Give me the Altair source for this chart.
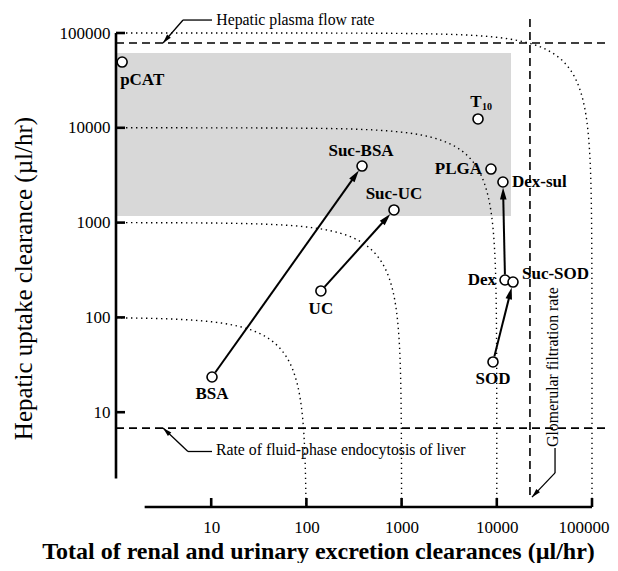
import math
import numpy as np
import pandas as pd
import altair as alt

# ---------------- values ----------------
names = ["pCAT", "T", "Suc-BSA", "PLGA", "Dex-sul", "Suc-UC", "UC", "Dex", "Suc-SOD", "SOD", "BSA"]
renal_cl = [1.16, 6350, 384, 8690, 11600, 832, 142, 12200, 14800, 9120, 10.2]
hepatic_cl = [49400, 12400, 3950, 3670, 2680, 1360, 190, 248, 236, 33.9, 23.5]
label_dx = [-2, -2, -1, -9, 9, 0, 0, -9, 9, 0, 0]
label_dy = [18, -17, -15, 0, 0, -16, 18, 0, -8, 17, 17]
label_align = ["left", "center", "center", "right", "left", "center", "center",
               "right", "left", "center", "center"]

arrow_from = ["BSA", "UC", "SOD", "Dex"]
arrow_to = ["Suc-BSA", "Suc-UC", "Suc-SOD", "Dex-sul"]

iso_totals = [100, 1000, 10000, 100000]
x_ticks = [10, 100, 1000, 10000, 100000]
y_ticks = [10, 100, 1000, 10000, 100000]

hepatic_plasma_flow = 78500
fluid_endocytosis = 6.8
gfr = 22300
shade_x = [1, 14100]
shade_y = [1175, 61600]

# annotation texts and their leader lines (data coordinates)
ann_text = ["Hepatic plasma flow rate", "Rate of fluid-phase endocytosis of liver"]
ann_x = [11.3, 11.2]
ann_y = [137000, 4.0]
gfr_text = "Glomerular filtration rate"
gfr_text_x = 38900
gfr_text_y = 4.3
leader_x = [[10.2, 5.06, 3.12], [10.2, 5.7, 3.12], [40900, 40900, 23400]]
leader_y = [[137000, 137000, 78500], [3.85, 3.85, 6.8], [4.19, 2.29, 1.27]]

# ---------------- geometry helpers ----------------
W, H = 476, 474
KX, KY = W / 5.0, H / 5.0  # px per decade


def to_px(x, y):
    return KX * math.log10(x), -KY * math.log10(y)


def from_px(X, Y):
    return 10 ** (X / KX), 10 ** (-Y / KY)


pts = pd.DataFrame({"name": names, "x": renal_cl, "y": hepatic_cl})
lab = []
for n, x, y, dx, dy, al in zip(names, renal_cl, hepatic_cl, label_dx, label_dy, label_align):
    X, Y = to_px(x, y)
    lx, ly = from_px(X + dx, Y + dy)
    lab.append({"name": n, "x": lx, "y": ly, "align": al})
lab = pd.DataFrame(lab)

# subscript of T10
tX, tY = to_px(renal_cl[1], hepatic_cl[1])
sx, sy = from_px(tX + 4, tY - 12)
sub = pd.DataFrame({"t": ["10"], "x": [sx], "y": [sy]})

R = 5.5
HEAD = 12
lines, heads = [], []
for a, b in zip(arrow_from, arrow_to):
    i, j = names.index(a), names.index(b)
    X1, Y1 = to_px(renal_cl[i], hepatic_cl[i])
    X2, Y2 = to_px(renal_cl[j], hepatic_cl[j])
    L = math.hypot(X2 - X1, Y2 - Y1)
    ux, uy = (X2 - X1) / L, (Y2 - Y1) / L
    sx0, sy0 = from_px(X1 + R * ux, Y1 + R * uy)
    ex, ey = from_px(X2 - (R + HEAD * 0.7) * ux, Y2 - (R + HEAD * 0.7) * uy)
    hx, hy = from_px(X2 - (R + HEAD / 2) * ux, Y2 - (R + HEAD / 2) * uy)
    ang = math.degrees(math.atan2(ux, -uy)) % 360
    lines.append({"x": sx0, "y": sy0, "x2": ex, "y2": ey})
    heads.append({"x": hx, "y": hy, "angle": ang, "size": HEAD * HEAD})

LHEAD = 9
segs = []
for xs_, ys_ in zip(leader_x, leader_y):
    for k in range(len(xs_) - 1):
        segs.append({"x": xs_[k], "y": ys_[k], "x2": xs_[k + 1], "y2": ys_[k + 1]})
    X1, Y1 = to_px(xs_[-2], ys_[-2])
    X2, Y2 = to_px(xs_[-1], ys_[-1])
    L = math.hypot(X2 - X1, Y2 - Y1)
    ux, uy = (X2 - X1) / L, (Y2 - Y1) / L
    hx, hy = from_px(X2 - LHEAD / 2 * ux, Y2 - LHEAD / 2 * uy)
    ang = math.degrees(math.atan2(ux, -uy)) % 360
    heads.append({"x": hx, "y": hy, "angle": ang, "size": LHEAD * LHEAD})
lines_df = pd.DataFrame(lines)
heads_df = pd.DataFrame(heads)
segs_df = pd.DataFrame(segs)

# iso-clearance curves: renal + hepatic = constant
curves = []
for C in iso_totals:
    t = np.logspace(0, math.log10(C - 1), 160)
    xv = np.unique(np.concatenate([t, C - t]))
    for xv_ in xv:
        yv = C - xv_
        if xv_ >= 1 and yv >= 1:
            curves.append({"C": C, "x": xv_, "y": yv})
curves_df = pd.DataFrame(curves)

dashed_df = pd.DataFrame([
    {"x": 1, "x2": 143000, "y": hepatic_plasma_flow, "y2": hepatic_plasma_flow},
    {"x": 1, "x2": 143000, "y": fluid_endocytosis, "y2": fluid_endocytosis},
    {"x": gfr, "x2": gfr, "y": 1.34, "y2": 155000},
])
shade_df = pd.DataFrame({"x": [shade_x[0]], "x2": [shade_x[1]], "y": [shade_y[0]], "y2": [shade_y[1]]})
axis_lines_df = pd.DataFrame([
    {"x": 1, "x2": 1, "y": 2, "y2": 100000},
    {"x": 2, "x2": 100000, "y": 1, "y2": 1},
])
xt_df = pd.DataFrame({"x": x_ticks})
yt_df = pd.DataFrame({"y": y_ticks})
ann_df = pd.DataFrame({"t": ann_text, "x": ann_x, "y": ann_y})
gfr_df = pd.DataFrame({"t": [gfr_text], "x": [gfr_text_x], "y": [gfr_text_y]})

# ---------------- chart ----------------
SERIF = "Liberation Serif"
xs = alt.Scale(type="log", domain=[1, 100000], nice=False)
ys = alt.Scale(type="log", domain=[1, 100000], nice=False)
xaxis = alt.Axis(values=x_ticks, format="d", title="Total of renal and urinary excretion clearances (\u00b5l/hr)",
                 domain=False, ticks=False, tickSize=0, grid=False, labelFlush=True, labelFlushOffset=17,
                 labelOverlap=False,
                 labelFont=SERIF, labelFontSize=17, labelColor="black", labelPadding=12,
                 titleFont=SERIF, titleFontSize=24, titleFontWeight="bold", titleColor="black",
                 titleX=202, titleY=44, titleAlign="center", titleBaseline="middle")
yaxis = alt.Axis(values=y_ticks, format="d", title="Hepatic uptake clearance (\u00b5l/hr)",
                 domain=False, ticks=False, tickSize=0, grid=False, labelOverlap=False,
                 labelFont=SERIF, labelFontSize=17, labelColor="black", labelPadding=6,
                 titleFont=SERIF, titleFontSize=25, titleFontWeight="normal", titleColor="black",
                 titleX=-93, titleY=245, titleAlign="center", titleBaseline="middle")


def X(f):
    return alt.X(f, type="quantitative", scale=xs, axis=xaxis)


def Y(f):
    return alt.Y(f, type="quantitative", scale=ys, axis=yaxis)


shade = alt.Chart(shade_df).mark_rect(fill="#d8d8d8").encode(
    x=X("x"), x2="x2", y=Y("y"), y2="y2")

curve_layer = alt.Chart(curves_df).mark_line(
    color="black", strokeWidth=1.4, strokeDash=[1.4, 3.6]).encode(
    x=X("x"), y=Y("y"), detail="C:N", order="x:Q")

dashed = alt.Chart(dashed_df).mark_rule(
    color="black", strokeWidth=1.6, strokeDash=[8, 5]).encode(
    x=X("x"), x2="x2", y=Y("y"), y2="y2")

axis_lines = alt.Chart(axis_lines_df).mark_rule(color="black", strokeWidth=2.6).encode(
    x=X("x"), x2="x2", y=Y("y"), y2="y2")

xtick_layer = alt.Chart(xt_df).mark_rule(color="black", strokeWidth=2.6).encode(
    x=X("x"), y=alt.value(H), y2=alt.value(H - 9))
ytick_layer = alt.Chart(yt_df).mark_rule(color="black", strokeWidth=2.6).encode(
    y=Y("y"), x=alt.value(0), x2=alt.value(9))

arrow_lines = alt.Chart(lines_df).mark_rule(color="black", strokeWidth=2).encode(
    x=X("x"), x2="x2", y=Y("y"), y2="y2")

leader_lines = alt.Chart(segs_df).mark_rule(color="black", strokeWidth=1.3).encode(
    x=X("x"), x2="x2", y=Y("y"), y2="y2")

arrow_heads = alt.Chart(heads_df).mark_point(
    shape="M0,-1L0.55,1L-0.55,1Z", filled=True, color="black", opacity=1, strokeWidth=0).encode(
    x=X("x"), y=Y("y"), angle=alt.Angle("angle:Q", scale=None),
    size=alt.Size("size:Q", scale=None))

points = alt.Chart(pts).mark_point(
    shape="circle", size=100, filled=False, fill="white", fillOpacity=1,
    stroke="black", strokeWidth=1.6, opacity=1).encode(x=X("x"), y=Y("y"))

label_layers = []
for al in ["left", "center", "right"]:
    label_layers.append(
        alt.Chart(lab[lab["align"] == al]).mark_text(
            align=al, baseline="middle", font=SERIF, fontSize=17, fontWeight="bold", color="black").encode(
            x=X("x"), y=Y("y"), text="name:N"))

sub_layer = alt.Chart(sub).mark_text(
    align="left", baseline="middle", font=SERIF, fontSize=10, fontWeight="bold", color="black").encode(
    x=X("x"), y=Y("y"), text="t:N")

ann_layer = alt.Chart(ann_df).mark_text(
    align="left", baseline="middle", font=SERIF, fontSize=15.8, color="black").encode(
    x=X("x"), y=Y("y"), text="t:N")

gfr_layer = alt.Chart(gfr_df).mark_text(
    align="left", baseline="middle", angle=270, font=SERIF, fontSize=15.8, color="black").encode(
    x=X("x"), y=Y("y"), text="t:N")

chart = alt.layer(
    shade, curve_layer, dashed, axis_lines, xtick_layer, ytick_layer,
    arrow_lines, leader_lines, arrow_heads, points, *label_layers, sub_layer,
    ann_layer, gfr_layer
).properties(
    width=W, height=H,
    autosize=alt.AutoSizeParams(type="none"),
    padding={"left": 108, "top": 25, "right": 18, "bottom": 56},
    background="white",
).configure_view(stroke=None)

chart.save("out.html", embed_options={"renderer": "svg", "actions": False})
